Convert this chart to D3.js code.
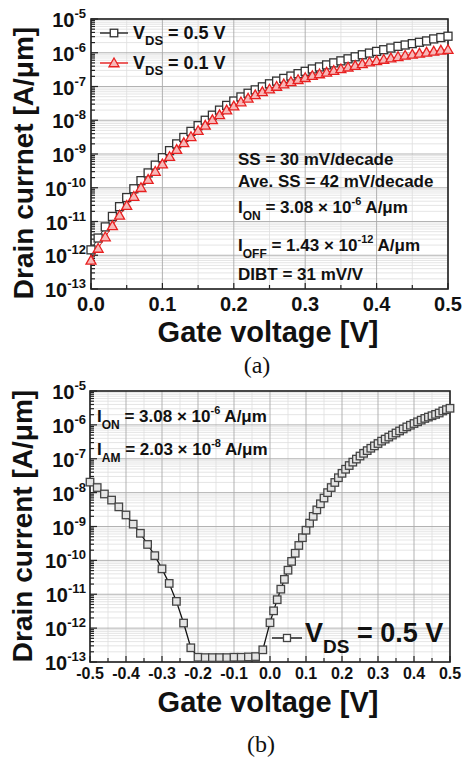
<!DOCTYPE html>
<html>
<head>
<meta charset="utf-8">
<script src="https://cdn.jsdelivr.net/npm/d3@7"></script>
<style>
  body { margin: 0; background: #fff; }
  svg text { font-family: "Liberation Sans", Arial, sans-serif; font-weight: bold; fill: #111; white-space: pre; }
  svg text.caption { font-family: "Liberation Serif", "Times New Roman", serif; font-weight: normal; }
</style>
</head>
<body>
<div id="chart"></div>
<script>
// ### DATA (gate voltage in V, drain current stored as log10 of A/um) ###
const vgTop = [0.00,0.01,0.02,0.03,0.04,0.05,0.06,0.07,0.08,0.09,
  0.10,0.11,0.12,0.13,0.14,0.15,0.16,0.17,0.18,0.19,
  0.20,0.21,0.22,0.23,0.24,0.25,0.26,0.27,0.28,0.29,
  0.30,0.31,0.32,0.33,0.34,0.35,0.36,0.37,0.38,0.39,
  0.40,0.41,0.42,0.43,0.44,0.45,0.46,0.47,0.48,0.49,0.50];
// V_DS = 0.5 V
const logIdVds05 = [-11.84,-11.49,-11.16,-10.85,-10.56,-10.29,-10.03,-9.79,-9.56,-9.33,
  -9.11,-8.90,-8.70,-8.51,-8.33,-8.16,-8.00,-7.85,-7.70,-7.56,
  -7.43,-7.31,-7.20,-7.10,-7.01,-6.92,-6.84,-6.76,-6.69,-6.62,
  -6.55,-6.48,-6.42,-6.36,-6.30,-6.24,-6.18,-6.12,-6.06,-6.01,
  -5.96,-5.91,-5.86,-5.81,-5.77,-5.73,-5.69,-5.65,-5.59,-5.55,-5.51];
// V_DS = 0.1 V
const logIdVds01 = [-12.15,-11.80,-11.46,-11.13,-10.82,-10.53,-10.26,-10.00,-9.76,-9.52,
  -9.30,-9.08,-8.87,-8.67,-8.49,-8.31,-8.15,-7.99,-7.84,-7.70,
  -7.58,-7.46,-7.35,-7.25,-7.16,-7.08,-7.00,-6.93,-6.86,-6.80,
  -6.74,-6.68,-6.63,-6.58,-6.53,-6.48,-6.43,-6.38,-6.33,-6.28,
  -6.24,-6.20,-6.16,-6.12,-6.08,-6.05,-6.02,-5.99,-5.96,-5.93,-5.91];

// panel (b): negative side sampled every 20 mV, positive side every 10 mV
const vgBottom = [-0.50,-0.48,-0.46,-0.44,-0.42,-0.40,-0.38,-0.36,-0.34,-0.32,
  -0.30,-0.28,-0.26,-0.24,-0.22,-0.20,-0.18,-0.16,-0.14,-0.12,
  -0.10,-0.08,-0.06,-0.04,-0.02,
  0.00,0.01,0.02,0.03,0.04,0.05,0.06,0.07,0.08,0.09,
  0.10,0.11,0.12,0.13,0.14,0.15,0.16,0.17,0.18,0.19,
  0.20,0.21,0.22,0.23,0.24,0.25,0.26,0.27,0.28,0.29,
  0.30,0.31,0.32,0.33,0.34,0.35,0.36,0.37,0.38,0.39,
  0.40,0.41,0.42,0.43,0.44,0.45,0.46,0.47,0.48,0.49,0.50];
const logIdBottom = [-7.69,-7.85,-8.04,-8.22,-8.42,-8.66,-8.93,-9.20,-9.53,-9.86,
  -10.25,-10.68,-11.21,-11.85,-12.58,-12.86,-12.87,-12.87,-12.87,-12.87,
  -12.86,-12.86,-12.85,-12.84,-12.64,
  -11.84,-11.49,-11.16,-10.85,-10.56,-10.29,-10.03,-9.79,-9.56,-9.33,
  -9.11,-8.90,-8.70,-8.51,-8.33,-8.16,-8.00,-7.85,-7.70,-7.56,
  -7.43,-7.31,-7.20,-7.10,-7.01,-6.92,-6.84,-6.76,-6.69,-6.62,
  -6.55,-6.48,-6.42,-6.36,-6.30,-6.24,-6.18,-6.12,-6.06,-6.01,
  -5.96,-5.91,-5.86,-5.81,-5.77,-5.73,-5.69,-5.65,-5.59,-5.55,-5.51];

// ticks
const topXTicks = [0.0,0.1,0.2,0.3,0.4,0.5];
const topXTickLabels = ["0.0","0.1","0.2","0.3","0.4","0.5"];
const topXMinor = [0.05,0.15,0.25,0.35,0.45];
const bottomXTicks = [-0.5,-0.4,-0.3,-0.2,-0.1,0.0,0.1,0.2,0.3,0.4,0.5];
const bottomXTickLabels = ["-0.5","-0.4","-0.3","-0.2","-0.1","0.0","0.1","0.2","0.3","0.4","0.5"];
const bottomXMinor = [-0.45,-0.35,-0.25,-0.15,-0.05,0.05,0.15,0.25,0.35,0.45];
const yExponents = [-13,-12,-11,-10,-9,-8,-7,-6,-5];

const width = 462;
const height = 757;

var svg = d3.select("#chart").append("svg")
  .attr("width", width)
  .attr("height", height);
svg.append("rect").attr("width", width).attr("height", height).attr("fill", "#fff");

// text with sub/superscripts: parts = [{t, size, off}] where off is baseline offset
function richText(parent, x, y, parts, size, anchor) {
  const t = parent.append("text")
    .attr("x", x).attr("y", y)
    .attr("font-size", size)
    .attr("text-anchor", anchor || "start");
  let cur = 0;
  parts.forEach(function (p) {
    const off = p.off || 0;
    t.append("tspan")
      .attr("dy", off - cur)
      .attr("font-size", p.size || size)
      .text(p.t);
    cur = off;
  });
  return t;
}

function squareMarks(g, pts, size, stroke, fill) {
  g.selectAll(null).data(pts).enter().append("rect")
    .attr("x", d => d[0] - size / 2)
    .attr("y", d => d[1] - size / 2)
    .attr("width", size).attr("height", size)
    .attr("fill", fill).attr("stroke", stroke).attr("stroke-width", 1.3);
}

function triangleMarks(g, pts, r, stroke, fill) {
  g.selectAll(null).data(pts).enter().append("path")
    .attr("d", d => "M" + d[0] + "," + (d[1] - r) +
      "L" + (d[0] + r) + "," + (d[1] + r * 0.75) +
      "L" + (d[0] - r) + "," + (d[1] + r * 0.75) + "Z")
    .attr("fill", fill).attr("stroke", stroke).attr("stroke-width", 1.3);
}

// builds frame, grid, ticks and labels of one panel
function makePanel(cfg) {
  const x = d3.scaleLinear().domain(cfg.xDomain).range([cfg.left, cfg.right]);
  const y = d3.scaleLog().domain([1e-13, 1e-5]).range([cfg.bottom, cfg.top]);
  const g = svg.append("g");

  const allY = y.ticks();
  const majorY = allY.filter(v => Math.abs(Math.log10(v) - Math.round(Math.log10(v))) < 1e-6);
  const minorY = allY.filter(v => majorY.indexOf(v) < 0);

  // minor grid
  g.selectAll(null).data(minorY).enter().append("line")
    .attr("x1", cfg.left).attr("x2", cfg.right)
    .attr("y1", d => y(d)).attr("y2", d => y(d))
    .attr("stroke", "#dedede").attr("stroke-width", 0.8);
  g.selectAll(null).data(cfg.xMinor).enter().append("line")
    .attr("x1", d => x(d)).attr("x2", d => x(d))
    .attr("y1", cfg.top).attr("y2", cfg.bottom)
    .attr("stroke", "#dedede").attr("stroke-width", 0.8);
  // major grid
  g.selectAll(null).data(majorY).enter().append("line")
    .attr("x1", cfg.left).attr("x2", cfg.right)
    .attr("y1", d => y(d)).attr("y2", d => y(d))
    .attr("stroke", "#aaa").attr("stroke-width", 0.9);
  g.selectAll(null).data(cfg.xTicks).enter().append("line")
    .attr("x1", d => x(d)).attr("x2", d => x(d))
    .attr("y1", cfg.top).attr("y2", cfg.bottom)
    .attr("stroke", "#aaa").attr("stroke-width", 0.9);

  // inward ticks on left and bottom
  g.selectAll(null).data(minorY).enter().append("line")
    .attr("x1", cfg.left).attr("x2", cfg.left + 4)
    .attr("y1", d => y(d)).attr("y2", d => y(d))
    .attr("stroke", "#222").attr("stroke-width", 1.2);
  g.selectAll(null).data(majorY).enter().append("line")
    .attr("x1", cfg.left).attr("x2", cfg.left + 7)
    .attr("y1", d => y(d)).attr("y2", d => y(d))
    .attr("stroke", "#222").attr("stroke-width", 1.2);
  g.selectAll(null).data(cfg.xMinor).enter().append("line")
    .attr("x1", d => x(d)).attr("x2", d => x(d))
    .attr("y1", cfg.bottom).attr("y2", cfg.bottom - 4)
    .attr("stroke", "#222").attr("stroke-width", 1.2);
  g.selectAll(null).data(cfg.xTicks).enter().append("line")
    .attr("x1", d => x(d)).attr("x2", d => x(d))
    .attr("y1", cfg.bottom).attr("y2", cfg.bottom - 6)
    .attr("stroke", "#222").attr("stroke-width", 1.2);

  // frame
  g.append("rect")
    .attr("x", cfg.left).attr("y", cfg.top)
    .attr("width", cfg.right - cfg.left).attr("height", cfg.bottom - cfg.top)
    .attr("fill", "none").attr("stroke", "#222").attr("stroke-width", 1.6);

  // y tick labels 10^n
  yExponents.forEach(function (e) {
    richText(g, 86, y(Math.pow(10, e)) + 8,
      [{ t: "10" }, { t: String(e), size: 13, off: -9 }], 20, "end");
  });
  // x tick labels
  cfg.xTicks.forEach(function (v, i) {
    g.append("text")
      .attr("x", x(v)).attr("y", cfg.xLabelY)
      .attr("text-anchor", "middle")
      .attr("font-size", cfg.xLabelSize)
      .text(cfg.xLabels[i]);
  });

  // axis titles
  g.append("text")
    .attr("transform", "translate(" + cfg.yTitleX + "," + cfg.yTitleY + ") rotate(-90)")
    .attr("text-anchor", "middle").attr("font-size", 28)
    .text(cfg.yTitle);
  g.append("text")
    .attr("x", 268).attr("y", cfg.xTitleY)
    .attr("text-anchor", "middle").attr("font-size", 29)
    .text("Gate voltage [V]");
  g.append("text").attr("class", "caption")
    .attr("x", cfg.captionX).attr("y", cfg.captionY)
    .attr("text-anchor", "middle").attr("font-size", 24)
    .text(cfg.caption);

  return { x: x, y: y, g: g };
}

// ### PANEL (a) ###
const pa = makePanel({
  left: 91, right: 448, top: 19, bottom: 289,
  xDomain: [0, 0.5], xTicks: topXTicks, xMinor: topXMinor, xLabels: topXTickLabels,
  xLabelY: 311, xLabelSize: 20,
  yTitle: "Drain currnet [A/\u03bcm]", yTitleX: 33, yTitleY: 163,
  xTitleY: 342, caption: "(a)", captionX: 257, captionY: 373
});

const ptsA05 = vgTop.map((v, i) => [pa.x(v), pa.y(Math.pow(10, logIdVds05[i]))]);
const ptsA01 = vgTop.map((v, i) => [pa.x(v), pa.y(Math.pow(10, logIdVds01[i]))]);

pa.g.append("path").attr("d", d3.line()(ptsA05))
  .attr("fill", "none").attr("stroke", "#222").attr("stroke-width", 1);
squareMarks(pa.g, ptsA05, 8, "#333", "#fff");
pa.g.append("path").attr("d", d3.line()(ptsA01))
  .attr("fill", "none").attr("stroke", "#e82020").attr("stroke-width", 1);
triangleMarks(pa.g, ptsA01, 5, "#e82020", "#f7b8b8");

// legend
pa.g.append("line").attr("x1", 100).attr("x2", 128).attr("y1", 33).attr("y2", 33)
  .attr("stroke", "#222").attr("stroke-width", 1.4);
squareMarks(pa.g, [[114, 33]], 7.5, "#333", "#fff");
richText(pa.g, 133, 39, [{ t: "V" }, { t: "DS", size: 13, off: 6 }, { t: " = 0.5 V", off: 0 }], 18);
pa.g.append("line").attr("x1", 100).attr("x2", 128).attr("y1", 63).attr("y2", 63)
  .attr("stroke", "#e82020").attr("stroke-width", 1.4);
triangleMarks(pa.g, [[114, 63]], 5, "#e82020", "#f7b8b8");
richText(pa.g, 133, 69, [{ t: "V" }, { t: "DS", size: 13, off: 6 }, { t: " = 0.1 V", off: 0 }], 18);

// annotations
richText(pa.g, 238, 165, [{ t: "SS = 30 mV/decade" }], 17);
richText(pa.g, 238, 187, [{ t: "Ave. SS = 42 mV/decade" }], 17);
richText(pa.g, 238, 213, [{ t: "I" }, { t: "ON", size: 12, off: 7 },
  { t: " = 3.08 \u00d7 10", off: 0 }, { t: "-6", size: 11, off: -8 }, { t: " A/\u03bcm", off: 0 }], 17);
richText(pa.g, 238, 251, [{ t: "I" }, { t: "OFF", size: 12, off: 7 },
  { t: " = 1.43 \u00d7 10", off: 0 }, { t: "-12", size: 11, off: -8 }, { t: " A/\u03bcm", off: 0 }], 17);
richText(pa.g, 238, 280, [{ t: "DIBT = 31 mV/V" }], 17);

// ### PANEL (b) ###
const pb = makePanel({
  left: 90, right: 450, top: 391, bottom: 662,
  xDomain: [-0.5, 0.5], xTicks: bottomXTicks, xMinor: bottomXMinor, xLabels: bottomXTickLabels,
  xLabelY: 679, xLabelSize: 16,
  yTitle: "Drain current [A/\u03bcm]", yTitleX: 32, yTitleY: 526,
  xTitleY: 712, caption: "(b)", captionX: 261, captionY: 752
});

const ptsB = vgBottom.map((v, i) => [pb.x(v), pb.y(Math.pow(10, logIdBottom[i]))]);
pb.g.append("path").attr("d", d3.line()(ptsB))
  .attr("fill", "none").attr("stroke", "#111").attr("stroke-width", 1.3);
squareMarks(pb.g, ptsB, 7.5, "#444", "#e4e4e4");

// legend
pb.g.append("line").attr("x1", 272).attr("x2", 302).attr("y1", 638).attr("y2", 638)
  .attr("stroke", "#111").attr("stroke-width", 1.4);
squareMarks(pb.g, [[287, 638]], 7, "#444", "#fff");
richText(pb.g, 305, 642, [{ t: "V" }, { t: "DS", size: 19, off: 11 }, { t: " = 0.5 V", off: 0 }], 27);

// annotations
richText(pb.g, 97, 422, [{ t: "I" }, { t: "ON", size: 12, off: 7 },
  { t: " = 3.08 \u00d7 10", off: 0 }, { t: "-6", size: 11, off: -8 }, { t: " A/\u03bcm", off: 0 }], 17);
richText(pb.g, 97, 455, [{ t: "I" }, { t: "AM", size: 12, off: 7 },
  { t: " = 2.03 \u00d7 10", off: 0 }, { t: "-8", size: 11, off: -8 }, { t: " A/\u03bcm", off: 0 }], 17);
</script>
</body>
</html>
